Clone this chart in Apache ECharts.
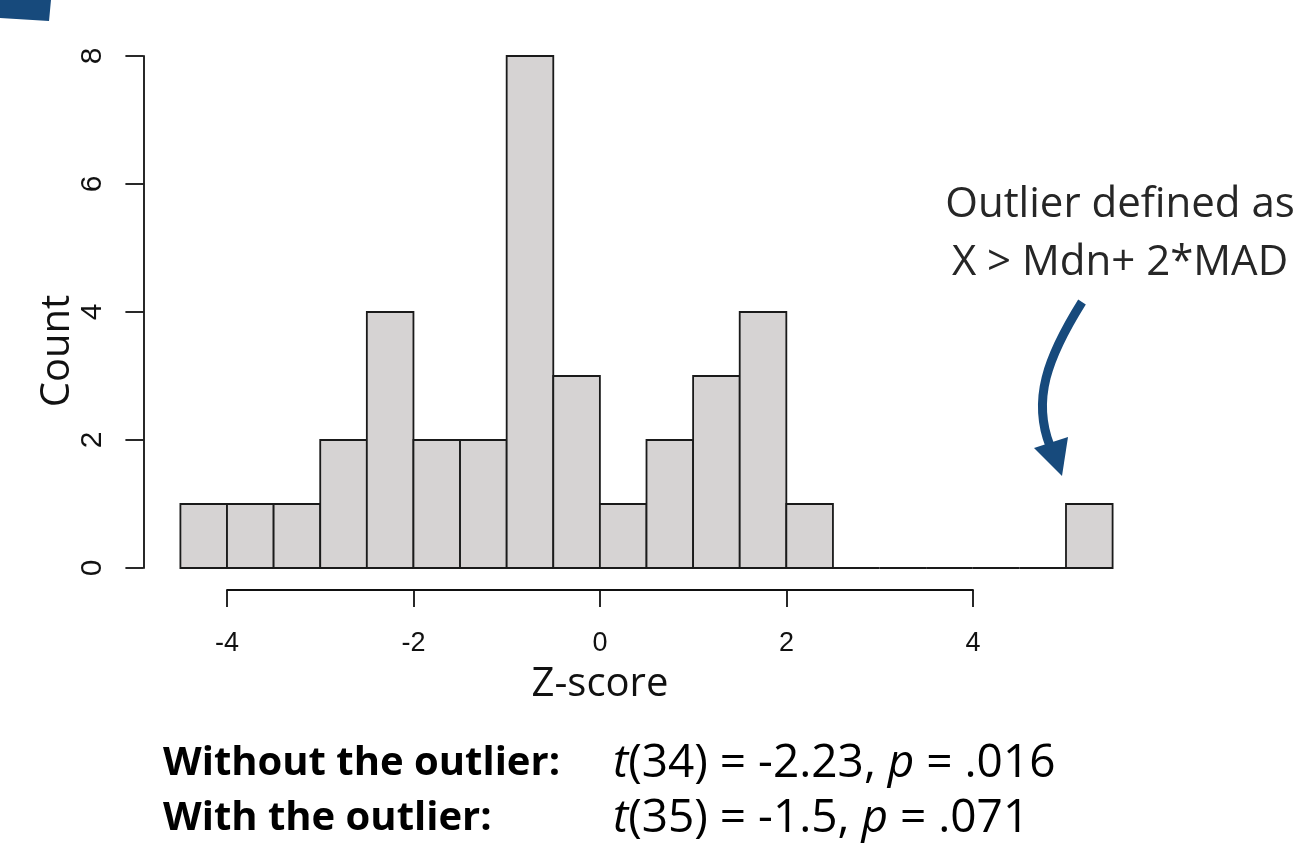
<!DOCTYPE html>
<html><head><meta charset="utf-8">
<script src="https://cdn.jsdelivr.net/npm/echarts@6/dist/echarts.min.js"></script>
<style>html,body{margin:0;padding:0;background:#fff}#c{width:1296px;height:846px}</style>
</head><body><div id="c"></div>
<script>
const binStarts = [-4.5,-4,-3.5,-3,-2.5,-2,-1.5,-1,-0.5,0,0.5,1,1.5,2,2.5,3,3.5,4,4.5,5];
const counts    = [1,1,1,2,4,2,2,8,3,1,2,3,4,1,0,0,0,0,0,1];
const binWidth = 0.5;
const xTicks = [-4,-2,0,2,4];
const yTicks = [0,2,4,6,8];
const data = binStarts.map((s,i)=>[s, s+binWidth, counts[i]]);

const chart = echarts.init(document.getElementById('c'));
chart.setOption({
  animation:false,
  grid:[
    {left:180.4, width:932.2, top:56, height:512},
    {left:227, width:746, top:56, height:512}
  ],
  xAxis:[
    {gridIndex:0, type:'value', min:-4.5, max:5.5, show:false},
    {gridIndex:1, type:'value', min:xTicks[0], max:xTicks[xTicks.length-1], interval:2, offset:22,
     axisLine:{show:true, onZero:false, lineStyle:{color:'#111', width:1.8}},
     axisTick:{show:true, length:17, lineStyle:{color:'#111', width:1.8}},
     axisLabel:{margin:40, fontFamily:'Liberation Sans', fontSize:27, color:'#111'},
     splitLine:{show:false},
     name:'Z-score', nameLocation:'middle', nameGap:75,
     nameTextStyle:{fontFamily:'Open Sans', fontSize:40, color:'#111'}
    }
  ],
  yAxis:[
    {gridIndex:0, type:'value', min:yTicks[0], max:yTicks[yTicks.length-1], interval:2, offset:37,
     axisLine:{show:true, onZero:false, lineStyle:{color:'#111', width:1.8}},
     axisTick:{show:true, length:18, lineStyle:{color:'#111', width:1.8}},
     axisLabel:{margin:36, rotate:90, fontFamily:'Liberation Sans', fontSize:30, color:'#111'},
     splitLine:{show:false}
    },
    {gridIndex:1, type:'value', min:0, max:8, show:false}
  ],
  series:[{
    type:'custom', xAxisIndex:0, yAxisIndex:0,
    data:data,
    renderItem:function(params, api){
      const p0 = api.coord([api.value(0), api.value(2)]);
      const p1 = api.coord([api.value(1), 0]);
      return {type:'rect', shape:{x:p0[0], y:p0[1], width:p1[0]-p0[0], height:p1[1]-p0[1]},
        style:{fill:'#d6d3d3', stroke:'#1a1a1a', lineWidth:1.8}};
    }
  }],
  graphic:[
    {type:'polygon', shape:{points:[[0,0],[51,0],[49,21],[0,18]]}, style:{fill:'#174a7c'}},
    {type:'text', x:58, y:351, rotation:Math.PI/2, style:{text:'Count', font:'40px "Open Sans"', fill:'#111', align:'center', verticalAlign:'middle'}},
    {type:'text', x:1120, y:205, style:{text:'Outlier defined as', font:'42px "Open Sans"', fill:'#262626', align:'center', verticalAlign:'middle'}},
    {type:'text', x:1120, y:263, style:{text:'X > Mdn+ 2*MAD', font:'42px "Open Sans"', fill:'#262626', align:'center', verticalAlign:'middle'}},
    {type:'bezierCurve', shape:{x1:1082, y1:302, cpx1:1047, cpy1:358, cpx2:1032, cpy2:400, x2:1050, y2:446}, style:{fill:null, stroke:'#174a7c', lineWidth:9}},
    {type:'polygon', shape:{points:[[1034,448],[1068,437],[1062,476]]}, style:{fill:'#174a7c'}},
    {type:'text', x:163, y:764, style:{text:'Without the outlier:', font:'bold 40px "Open Sans"', fill:'#000', verticalAlign:'middle'}},
    {type:'text', x:163, y:819, style:{text:'With the outlier:', font:'bold 40px "Open Sans"', fill:'#000', verticalAlign:'middle'}},
    {type:'text', x:613, y:764, style:{rich:{i:{font:'italic 46px "Open Sans"', fill:'#000'}, n:{font:'46px "Open Sans"', fill:'#000'}}, text:'{i|t}{n|(34) = -2.23, }{i|p}{n| = .016}', verticalAlign:'middle'}},
    {type:'text', x:613, y:819, style:{rich:{i:{font:'italic 46px "Open Sans"', fill:'#000'}, n:{font:'46px "Open Sans"', fill:'#000'}}, text:'{i|t}{n|(35) = -1.5, }{i|p}{n| = .071}', verticalAlign:'middle'}}
  ]
});
</script></body></html>
